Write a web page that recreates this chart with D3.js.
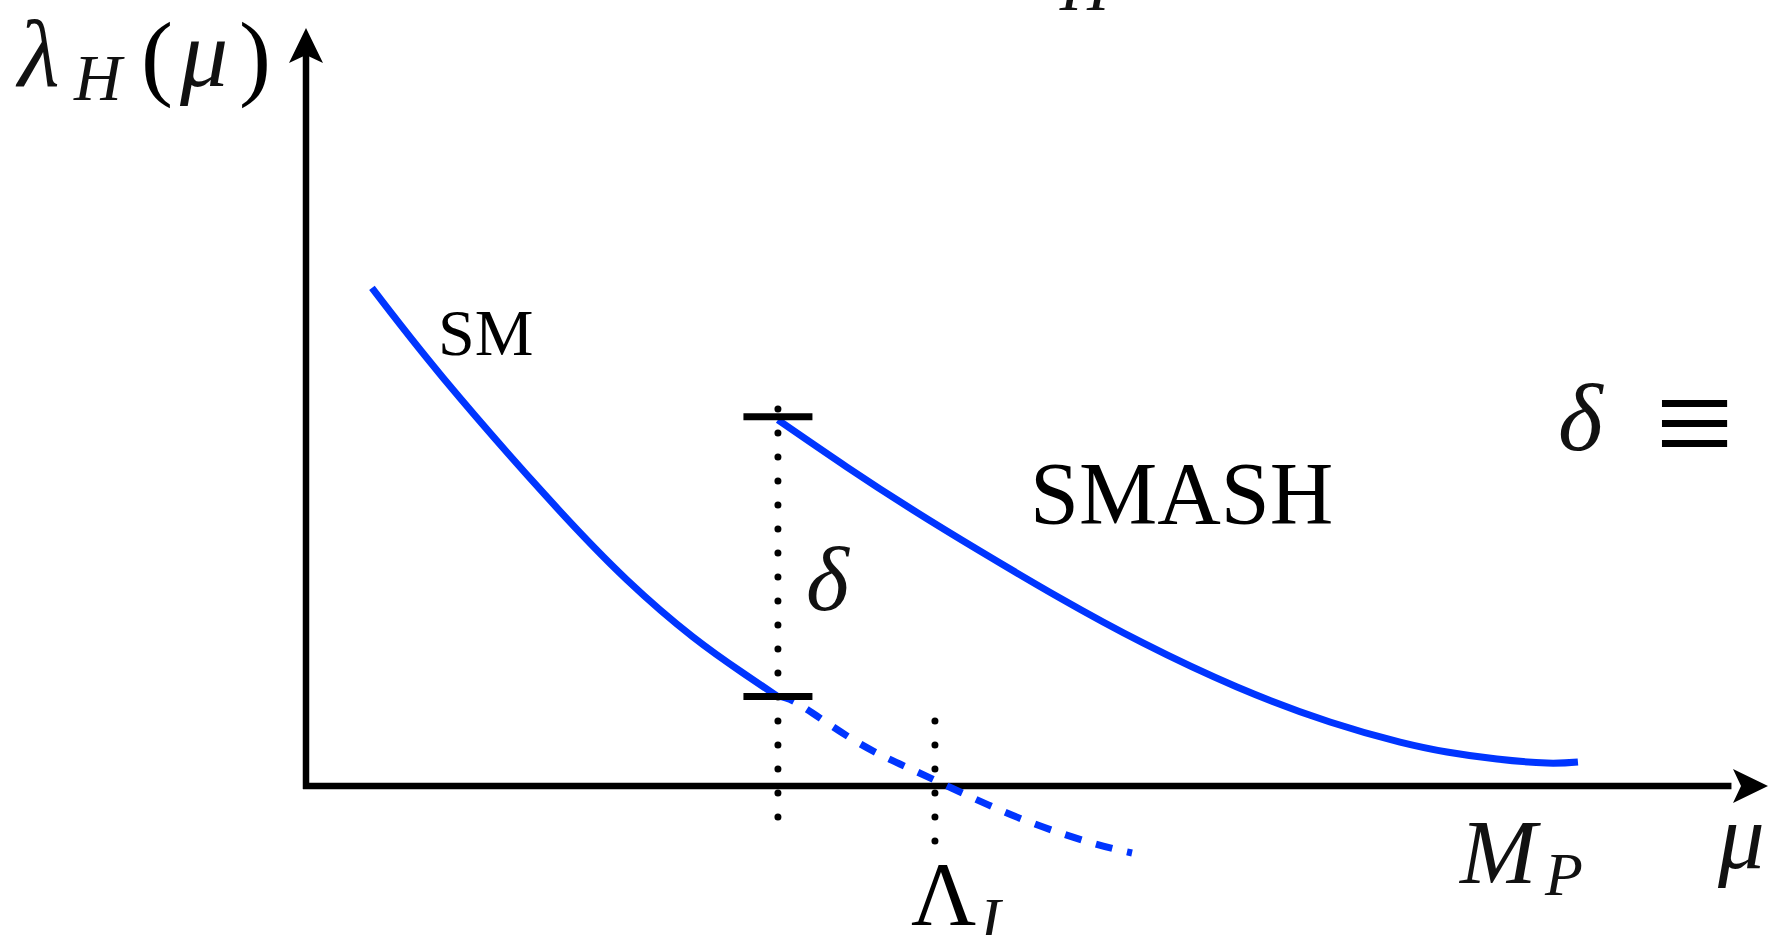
<!DOCTYPE html>
<html>
<head>
<meta charset="utf-8">
<script src="https://cdn.jsdelivr.net/npm/d3@7"></script>
<style>
  html, body { margin: 0; padding: 0; background: #fff; overflow: hidden; }
  svg { display: block; }
  .math { font-family: "Liberation Serif", "Times New Roman", serif; font-style: italic; fill: #111; }
  .roman { font-family: "Liberation Serif", "Times New Roman", serif; fill: #000; }
</style>
</head>
<body>
<svg id="chart" width="1768" height="935"></svg>
<script>
// Running of the Higgs quartic λ_H(μ): SM curve and the SMASH threshold jump δ.
const smMu      = [4.51, 9.37, 16.48, 21.96, 26.47, 29.89, 32.28];
const smLambda  = [65.70, 53.86, 38.13, 27.18, 19.66, 14.91, 11.80];

// SM continuation past the threshold (dashed), crossing zero at Λ_I
const smExtMu     = [32.28, 33.79, 37.69, 41.66, 45.62, 49.66, 53.76, 56.50];
const smExtLambda = [11.80, 10.69, 5.80, 1.98, -1.58, -4.88, -7.52, -8.84];

const smashMu     = [32.28, 37.00, 41.52, 46.10, 51.57, 57.25, 63.68, 70.04, 74.83, 78.04, 81.46, 84.88, 87.00];
const smashLambda = [48.30, 42.08, 36.41, 31.00, 24.80, 18.87, 13.06, 8.44, 5.80, 4.49, 3.56, 3.03, 3.17];

const thresholdMu = 32.28;        // scale of the jump
const deltaLow = 11.8, deltaHigh = 48.7;
const deltaGuide = [49.74, -4.09]; // dotted guide extent at the threshold
const lambdaIMu = 43.02;          // instability scale Λ_I
const lambdaIGuide = [8.58, -7.26];
const tickHalfWidth = 2.36;

const blue = "#0035ff";
const svg = d3.select("#chart");

const x = d3.scaleLinear().domain([0, 100]).range([306, 1768]);
const y = d3.scaleLinear().domain([0, 100]).range([786, 28]);

const line = d3.line().x(d => x(d[0])).y(d => y(d[1])).curve(d3.curveNatural);

// Axes with arrowheads
const ax = svg.append("g");
ax.append("line").attr("x1", x(0)).attr("x2", x(0)).attr("y1", y(0) + 3).attr("y2", y(97))
  .attr("stroke", "#000").attr("stroke-width", 6.5);
ax.append("line").attr("x1", x(0) - 3).attr("x2", x(97.5)).attr("y1", y(0)).attr("y2", y(0))
  .attr("stroke", "#000").attr("stroke-width", 6.5);
{
  const tx = x(0), ty = y(100);
  ax.append("path").attr("d", `M${tx},${ty} L${tx + 17},${ty + 35} L${tx},${ty + 27} L${tx - 17},${ty + 35} Z`).attr("fill", "#000");
  const rx = x(100), ry = y(0);
  ax.append("path").attr("d", `M${rx},${ry} L${rx - 35},${ry - 17} L${rx - 27},${ry} L${rx - 35},${ry + 17} Z`).attr("fill", "#000");
}

// Dotted guides
const dotted = (mu, ext) => svg.append("line")
  .attr("x1", x(mu)).attr("x2", x(mu)).attr("y1", y(ext[0])).attr("y2", y(ext[1]))
  .attr("stroke", "#000").attr("stroke-width", 7).attr("stroke-linecap", "round")
  .attr("stroke-dasharray", "0 24");
dotted(thresholdMu, deltaGuide);
dotted(lambdaIMu, lambdaIGuide);

// Curves
const zip = (a, b) => a.map((v, i) => [v, b[i]]);
svg.append("path").attr("d", line(zip(smExtMu, smExtLambda)))
  .attr("fill", "none").attr("stroke", blue).attr("stroke-width", 7).attr("stroke-dasharray", "17 15");
svg.append("path").attr("d", line(zip(smMu, smLambda)))
  .attr("fill", "none").attr("stroke", blue).attr("stroke-width", 7);
svg.append("path").attr("d", line(zip(smashMu, smashLambda)))
  .attr("fill", "none").attr("stroke", blue).attr("stroke-width", 7);

// Jump markers
[deltaLow, deltaHigh].forEach(v => {
  svg.append("line").attr("x1", x(thresholdMu - tickHalfWidth)).attr("x2", x(thresholdMu + tickHalfWidth))
    .attr("y1", y(v)).attr("y2", y(v)).attr("stroke", "#000").attr("stroke-width", 7);
});

// Labels
const txt = (s, px, py, size, cls) => svg.append("text").attr("class", cls)
  .attr("x", px).attr("y", py).attr("font-size", size).text(s);

txt("λ", 18, 86, 96, "math");
txt("H", 74, 100, 66, "math");
txt("(", 141, 88, 96, "roman");
txt("μ", 180, 86, 96, "math");
txt(")", 239, 88, 96, "roman");

txt("H", 1060, 10, 68, "math");

txt("SM", 438, 355, 66, "roman");
txt("SMASH", 1030, 523, 88, "roman");

txt("δ", 806, 610, 92, "math");
txt("δ", 1558, 450, 96, "math");
txt("≡", 1655, 470, 140, "roman");

txt("M", 1460, 883, 92, "math");
txt("P", 1545, 895, 62, "math");
txt("μ", 1718, 868, 93, "math");

txt("Λ", 911, 925, 90, "roman");
txt("I", 980, 940, 62, "math");
</script>
</body>
</html>
